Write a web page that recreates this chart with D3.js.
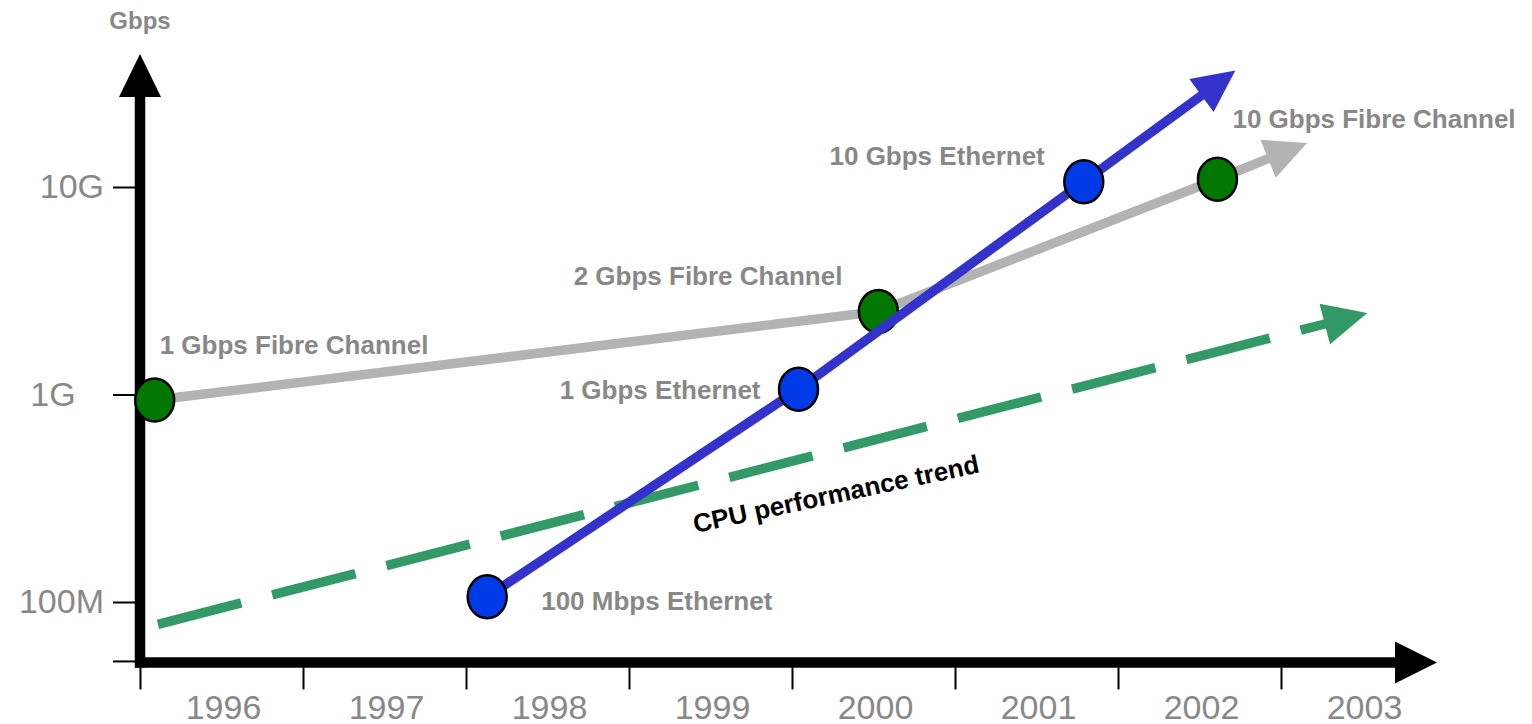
<!DOCTYPE html>
<html>
<head>
<meta charset="utf-8">
<script src="https://cdn.jsdelivr.net/npm/d3@7"></script>
<style>
body { margin: 0; background: #fff; }
svg { display: block; font-family: Arial, "Liberation Sans", Helvetica, sans-serif; }
</style>
</head>
<body>
<div id="chart"></div>
<script>
// x axis: one band per year
const years = [1996, 1997, 1998, 1999, 2000, 2001, 2002, 2003];
// y axis (log, Gbps)
const yOrigin = 0.052;
const yTickValues = [0.1, 1, 10];
const yTickLabels = ["100M", "1G   ", "10G"];

// Fibre Channel generations
const fcYears = [1996.09, 2000.53, 2002.61];
const fcGbps = [0.94, 2.51, 10.9];
const fcLabels = ["1 Gbps Fibre Channel", "2 Gbps Fibre Channel", "10 Gbps Fibre Channel"];
const fcTrendEnd = [2003.16, 16.3];

// Ethernet generations
const ethYears = [1998.13, 2000.04, 2001.79];
const ethGbps = [0.106, 1.06, 10.6];
const ethLabels = ["100 Mbps Ethernet", "1 Gbps Ethernet", "10 Gbps Ethernet"];
const ethTrendEnd = [2002.72, 36.4];

// CPU performance trend (start, arrow tip)
const cpuYears = [1996.11, 2003.53];
const cpuGbps = [0.078, 2.47];
const cpuLabel = "CPU performance trend";

const width = 1532, height = 724;
const grey = "#888888";

const svg = d3.select("#chart").append("svg")
    .attr("width", width)
    .attr("height", height);

const x = d3.scaleLinear().domain([1996, 2003]).range([140, 1281]);
const y = d3.scaleLog().domain([0.1, 10]).range([602, 187]);

const axisX = 140;          // centre of the thick y axis line
const axisY = y(yOrigin) + 1.5; // centre of the thick x axis line

// ---- thick axes with arrow heads ----
svg.append("line")
    .attr("x1", axisX).attr("x2", axisX)
    .attr("y1", 90).attr("y2", axisY + 5)
    .attr("stroke", "#000").attr("stroke-width", 10.5);
svg.append("polygon")
    .attr("points", [[axisX, 54], [axisX - 21, 97], [axisX + 21, 97]].join(" "))
    .attr("fill", "#000");

svg.append("line")
    .attr("x1", axisX - 5).attr("x2", 1400)
    .attr("y1", axisY).attr("y2", axisY)
    .attr("stroke", "#000").attr("stroke-width", 10.5);
svg.append("polygon")
    .attr("points", [[1437, axisY], [1395, axisY - 21], [1395, axisY + 21]].join(" "))
    .attr("fill", "#000");

// ---- y ticks ----
const yAxis = d3.axisLeft(y)
    .tickValues([yOrigin].concat(yTickValues))
    .tickSize(22)
    .tickPadding(9)
    .tickFormat(d => {
        const i = yTickValues.indexOf(d);
        return i < 0 ? "" : yTickLabels[i];
    });
const gY = svg.append("g")
    .attr("transform", "translate(" + (axisX - 5) + ",0)")
    .call(yAxis);
gY.select(".domain").remove();
gY.selectAll(".tick line").attr("stroke", "#000").attr("stroke-width", 2);
gY.selectAll(".tick text")
    .attr("fill", grey)
    .style("font-size", "34px")
    .style("font-family", "Arial, 'Liberation Sans', sans-serif")
    .style("white-space", "pre");

// ---- x ticks and year labels ----
const xAxis = d3.axisBottom(x)
    .tickValues(years)
    .tickSize(22)
    .tickFormat("");
const gX = svg.append("g")
    .attr("transform", "translate(0," + (axisY + 5) + ")")
    .call(xAxis);
gX.select(".domain").remove();
gX.selectAll(".tick line").attr("stroke", "#000").attr("stroke-width", 2);

svg.append("g").selectAll("text")
    .data(years)
    .enter().append("text")
    .attr("x", d => x(d + 0.5) + 2)
    .attr("y", 719)
    .attr("text-anchor", "middle")
    .attr("fill", grey)
    .style("font-size", "34px")
    .text(d => d);

svg.append("text")
    .attr("x", axisX)
    .attr("y", 29)
    .attr("text-anchor", "middle")
    .attr("fill", grey)
    .style("font-size", "24px")
    .style("font-weight", "bold")
    .text("Gbps");

// ---- helpers ----
const line = d3.line();

function arrowLine(pts, color, sw, headLen, headW, dash) {
    const n = pts.length;
    const tip = pts[n - 1], prev = pts[n - 2];
    const dx = tip[0] - prev[0], dy = tip[1] - prev[1];
    const len = Math.hypot(dx, dy);
    const ux = dx / len, uy = dy / len;
    const base = [tip[0] - ux * headLen, tip[1] - uy * headLen];
    const body = pts.slice(0, n - 1).concat([[base[0] + ux * 2, base[1] + uy * 2]]);
    const p = svg.append("path")
        .attr("d", line(body))
        .attr("fill", "none")
        .attr("stroke", color)
        .attr("stroke-width", sw)
        .attr("stroke-linejoin", "round");
    if (dash) p.attr("stroke-dasharray", dash);
    svg.append("polygon")
        .attr("points", [
            tip,
            [base[0] - uy * headW / 2, base[1] + ux * headW / 2],
            [base[0] + uy * headW / 2, base[1] - ux * headW / 2]
        ].join(" "))
        .attr("fill", color);
}

function points(ys, vs, end) {
    const pts = ys.map((d, i) => [x(d), y(vs[i])]);
    if (end) pts.push([x(end[0]), y(end[1])]);
    return pts;
}

function markers(ys, vs, fill) {
    svg.append("g").selectAll("ellipse")
        .data(ys)
        .enter().append("ellipse")
        .attr("cx", d => x(d))
        .attr("cy", (d, i) => y(vs[i]))
        .attr("rx", 19.5)
        .attr("ry", 21.5)
        .attr("fill", fill)
        .attr("stroke", "#000")
        .attr("stroke-width", 2.5);
}

function labels(ys, vs, texts, offsets) {
    svg.append("g").selectAll("text")
        .data(texts)
        .enter().append("text")
        .attr("x", (d, i) => x(ys[i]) + offsets[i][0])
        .attr("y", (d, i) => y(vs[i]) + offsets[i][1])
        .attr("text-anchor", (d, i) => offsets[i][2])
        .attr("fill", grey)
        .style("font-size", "26px")
        .style("font-weight", "bold")
        .text(d => d);
}

// ---- CPU trend (dashed) ----
arrowLine(points(cpuYears, cpuGbps), "#339966", 9.5, 44, 42, "86,32");

// ---- Fibre Channel ----
arrowLine(points(fcYears, fcGbps, fcTrendEnd), "#b3b3b3", 9.5, 42, 41);
markers(fcYears, fcGbps, "#007700");

// ---- Ethernet ----
arrowLine(points(ethYears, ethGbps, ethTrendEnd), "#3333cc", 9.5, 42, 41);
markers(ethYears, ethGbps, "#0039e6");

labels(fcYears, fcGbps, fcLabels, [[5, -46, "start"], [-36, -27, "end"], [15, -51, "start"]]);
labels(ethYears, ethGbps, ethLabels, [[54, 13, "start"], [-38, 10, "end"], [-39, -17, "end"]]);

// CPU label, placed under the dashed trend
const cpuLabelYear = 2000.27;
const t = (cpuLabelYear - cpuYears[0]) / (cpuYears[1] - cpuYears[0]);
const cpuLabelVal = Math.pow(10, Math.log10(cpuGbps[0]) + t * (Math.log10(cpuGbps[1]) - Math.log10(cpuGbps[0])));
svg.append("text")
    .attr("transform", "translate(" + x(cpuLabelYear) + "," + (y(cpuLabelVal) + 44) + ") rotate(-12)")
    .attr("y", 9)
    .attr("text-anchor", "middle")
    .attr("fill", "#000")
    .style("font-size", "26px")
    .style("font-weight", "bold")
    .text(cpuLabel);
</script>
</body>
</html>
